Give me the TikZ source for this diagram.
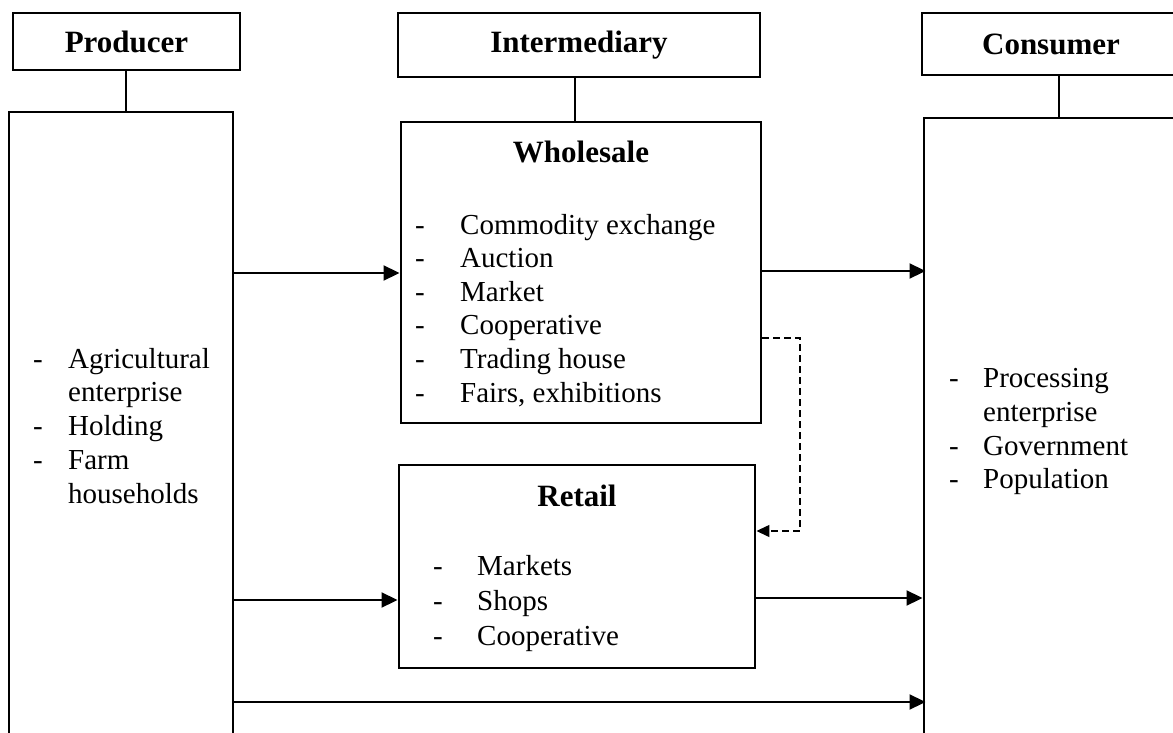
\documentclass[tikz,border=0pt]{standalone}
\usepackage{fontspec}
\setmainfont{Liberation Serif}
\usetikzlibrary{arrows.meta}

% one list entry: a dash, then the text after a fixed indent
\newcommand\entry[4]{\node[item] (#1) at (#2) {\makebox[#3][l]{-}#4};}

\begin{document}
\begin{tikzpicture}[x=1pt,y=-1pt,
  box/.style={draw, line width=2.9pt, inner sep=0pt, rectangle},
  head/.style={box, font=\fontsize{31}{36}\selectfont\bfseries},
  title/.style={anchor=base, inner sep=0pt, font=\fontsize{31}{36}\selectfont\bfseries},
  item/.style={anchor=base west, inner sep=0pt, font=\fontsize{29}{34}\selectfont},
  stem/.style={line width=2.9pt},
  flow/.style={line width=1.9pt, -{Triangle[length=16pt,width=15pt]}},
  back/.style={line width=1.4pt, dash pattern=on 7pt off 4pt, -{Triangle[length=13pt,width=12pt]}}]
\useasboundingbox (0,0) rectangle (1173,733);
\clip (0,0) rectangle (1173,733);
\fill[white] (0,0) rectangle (1173,733);

% column headings
\node[head, minimum width=227pt, minimum height=57pt] (prodHead) at (126.5,41.5) {Producer};
\node[head, minimum width=362pt, minimum height=64pt] (interHead) at (579,45) {Intermediary};
\node[head, minimum width=258pt, minimum height=62pt] (consHead) at (1051,44) {Consumer};

% main boxes
\node[box, minimum width=224pt, minimum height=640pt] (prodBox) at (121,432) {};
\node[box, minimum width=360pt, minimum height=301pt] (wholeBox) at (581,272.5) {};
\node[box, minimum width=356pt, minimum height=203pt] (retailBox) at (577,566.5) {};
\node[box, minimum width=270pt, minimum height=640pt] (consBox) at (1059,438) {};

% stems from headings to boxes
\coordinate (s1) at (126,0);
\coordinate (s2) at (575,0);
\coordinate (s3) at (1059,0);
\draw[stem] (prodHead.south -| s1) -- (prodBox.north -| s1);
\draw[stem] (interHead.south -| s2) -- (wholeBox.north -| s2);
\draw[stem] (consHead.south -| s3) -- (consBox.north -| s3);

% producer list
\entry{p1}{33,368}{35pt}{Agricultural}
\node[item] (p2) at (68,401.75) {enterprise};
\entry{p3}{33,435.5}{35pt}{Holding}
\entry{p4}{33,469.25}{35pt}{Farm}
\node[item] (p5) at (68,503) {households};

% wholesale
\node[title] (wholeTitle) at (581,163) {Wholesale};
\entry{w1}{415,234}{45pt}{Commodity exchange}
\entry{w2}{415,267.6}{45pt}{Auction}
\entry{w3}{415,301.2}{45pt}{Market}
\entry{w4}{415,334.8}{45pt}{Cooperative}
\entry{w5}{415,368.4}{45pt}{Trading house}
\entry{w6}{415,402}{45pt}{Fairs, exhibitions}

% retail
\node[title] (retailTitle) at (577,506) {Retail};
\entry{r1}{433,575}{44pt}{Markets}
\entry{r2}{433,610}{44pt}{Shops}
\entry{r3}{433,645}{44pt}{Cooperative}

% consumer list
\entry{c1}{949,387.5}{34pt}{Processing}
\node[item] (c2) at (983,421) {enterprise};
\entry{c3}{949,455}{34pt}{Government}
\entry{c4}{949,488.5}{34pt}{Population}

% flows
\coordinate (a1) at (0,273);
\coordinate (a2) at (0,271);
\coordinate (a3) at (0,600);
\coordinate (a4) at (0,598);
\coordinate (a5) at (0,702);
\draw[flow] (prodBox.east |- a1) -- (wholeBox.west |- a1);
\draw[flow] (wholeBox.east |- a2) -- ([xshift=3pt]consBox.west |- a2);
\draw[flow] (prodBox.east |- a3) -- (retailBox.west |- a3);
\draw[flow] (retailBox.east |- a4) -- (consBox.west |- a4);
\draw[flow] (prodBox.east |- a5) -- ([xshift=3pt]consBox.west |- a5);

% wholesale supplies retail
\coordinate (d1) at (800,338);
\coordinate (d2) at (800,531);
\draw[back] (wholeBox.east |- d1) -- (d1) -- (d2) -- (retailBox.east |- d2);
\end{tikzpicture}
\end{document}
